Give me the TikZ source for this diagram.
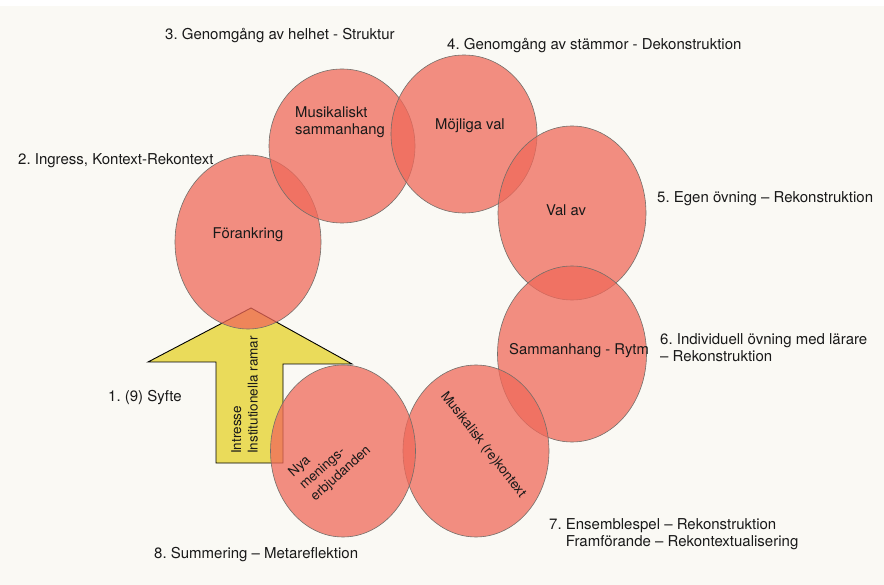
\documentclass[tikz,border=0pt]{standalone}
\usepackage{fontspec}
\setmainfont{TeX Gyre Heros}
\usetikzlibrary{shapes.geometric}
\definecolor{bgc}{RGB}{250,249,244}
\definecolor{blobc}{RGB}{240,105,90}
\definecolor{blobline}{RGB}{115,110,105}
\definecolor{arrowc}{RGB}{234,219,90}
\definecolor{txt}{RGB}{25,25,25}
\tikzset{
  blob/.style={ellipse, draw=blobline, line width=0.6pt, fill=blobc, fill opacity=0.75,
    minimum width=146pt, minimum height=174pt, inner sep=0pt},
  lab/.style={font=\frenchspacing\fontsize{15}{17}\selectfont, text=txt, inner sep=0pt, align=left},
  inlab/.style={font=\fontsize{14.8}{17}\selectfont, text=txt, inner sep=0pt, align=left},
  rotlab/.style={font=\fontsize{13.5}{16.5}\selectfont, text=txt, inner sep=0pt, align=left},
  arrowshape/.style={draw=black, line width=0.9pt, fill=arrowc, line join=miter}
}
\begin{document}
\begin{tikzpicture}[x=1pt,y=-1pt]
\useasboundingbox (0,0) rectangle (884,585);
\fill[white] (0,0) rectangle (884,585);
\fill[bgc] (0,6) rectangle (884,585);
% arrow
\draw[arrowshape] (251,308) -- (352,364) -- (283,364) -- (283,463) -- (216,463) -- (216,362) -- (148,362) -- cycle;
\coordinate (tip) at (251,308);
% ellipses
\node[blob] (e1) at (248,242) {};
\node[blob, minimum height=154pt] (e2) at (342,146) {};
\node[blob, minimum height=158pt] (e3) at (464,134) {};
\node[blob, minimum width=148pt] (e4) at (572,213) {};
\node[blob, minimum width=149pt, minimum height=176pt] (e5) at (572,354) {};
\node[blob, minimum width=146pt, minimum height=172pt] (e6) at (476,451) {};
\node[blob, minimum width=145pt, minimum height=172pt] (e7) at (343,451) {};
% arrow text
\node[rotlab, rotate=90, anchor=south west, align=left] (at) at (258,454) {Intresse\\Institutionella ramar};
% inner labels
\node[inlab] (t1) at (248,235) {Förankring};
\node[inlab, anchor=west] (t2) at (295,122) {Musikaliskt\\sammanhang};
\node[inlab] (t3) at (470,126) {Möjliga val};
\node[inlab] (t4) at (566,210) {Val av};
\node[inlab, anchor=west] (t5) at (509,351) {Sammanhang - Rytm};
\node[rotlab, rotate=-52] (t6) at (483,445) {Musikalisk (re)kontext};
\node[rotlab, rotate=42, align=left] (t7) at (330,462) {Nya\\menings-\\erbjudanden};
% outer labels
\node[lab, anchor=west] (l3) at (165,36) {3. Genomgång av helhet - Struktur};
\node[lab, anchor=west] (l4) at (447,46) {4. Genomgång av stämmor - Dekonstruktion};
\node[lab, anchor=west] (l2) at (18,161) {2. Ingress, Kontext-Rekontext};
\node[lab, anchor=west] (l5) at (657,199) {5. Egen övning – Rekonstruktion};
\node[lab, anchor=west] (l6) at (660,348) {6. Individuell övning med lärare\\– Rekonstruktion};
\node[lab, anchor=west] (l1) at (108,398) {1. (9) Syfte};
\node[lab, anchor=west] (l7) at (549,534) {7. Ensemblespel – Rekonstruktion\\\hphantom{7. }Framförande – Rekontextualisering};
\node[lab, anchor=west] (l8) at (154,555) {8. Summering – Metareflektion};
\end{tikzpicture}
\end{document}
